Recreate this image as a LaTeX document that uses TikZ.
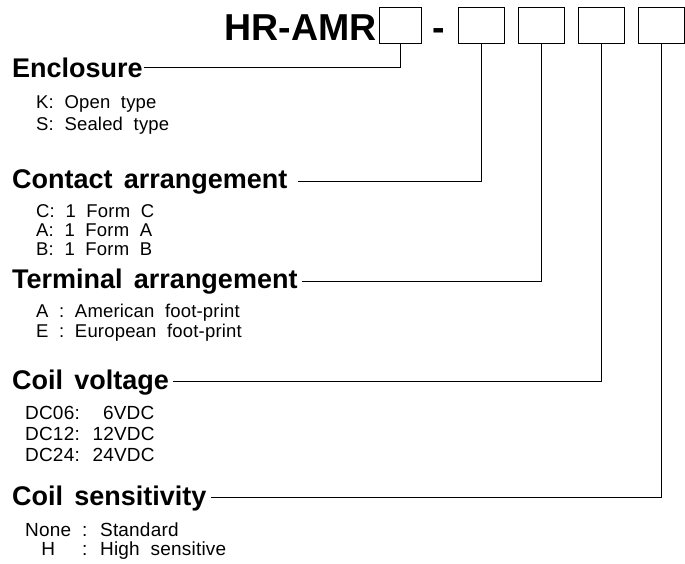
\documentclass[tikz,border=0pt]{standalone}
\usepackage{fontspec}
\setmainfont{Liberation Sans}
\newfontfamily\headfont[WordSpace=1.5]{Liberation Sans}
\newfontfamily\itemfont[WordSpace=2,LetterSpace=1]{Liberation Sans}
\usetikzlibrary{calc}
\begin{document}
\begin{tikzpicture}[x=1pt,y=-1pt,
  codebox/.style={draw=black,line width=1pt,minimum height=36pt,inner sep=0pt},
  title/.style={anchor=base east,inner sep=0pt,font=\fontsize{37.5}{40}\selectfont\bfseries},
  heading/.style={anchor=base west,inner sep=0pt,font=\headfont\fontsize{27}{30}\selectfont\bfseries},
  item/.style={anchor=base west,inner sep=0pt,font=\itemfont\fontsize{18.5}{20}\selectfont},
  bigitem/.style={anchor=base west,inner sep=0pt,font=\itemfont\fontsize{19}{21}\selectfont},
  leader/.style={draw=black,line width=0.9pt}]
\useasboundingbox (0,0) rectangle (685,563);
% title and code boxes
\node[title] (hr) at (377,40) {HR-AMR};
\node[anchor=base,inner sep=0pt,font=\fontsize{37.5}{40}\selectfont\bfseries] (dash) at (439,40) {-};
\node[codebox,minimum width=42pt] (b1) at (400,25) {};
\node[codebox,minimum width=46pt] (b2) at (481,25) {};
\node[codebox,minimum width=46pt] (b3) at (541,25) {};
\node[codebox,minimum width=46pt] (b4) at (601,25) {};
\node[codebox,minimum width=46pt] (b5) at (661,25) {};
% headings
\node[heading] (h1) at (12,77) {Enclosure};
\node[heading] (h2) at (12,188) {Contact arrangement};
\node[heading] (h3) at (12,288) {Terminal arrangement};
\node[heading] (h4) at (12,389) {Coil voltage};
\node[heading] (h5) at (12,505) {Coil sensitivity};
% items
\node[item] (k) at (36,108) {K: Open type};
\node[item] (s) at (36,130) {S: Sealed type};
\node[item] (c) at (36,217) {C: 1 Form C};
\node[item] (a) at (36,236) {A: 1 Form A};
\node[item] (b) at (36,255) {B: 1 Form B};
\node[item] (ta) at (36,317) {A : American foot-print};
\node[item] (te) at (36,337) {E : European foot-print};
\node[bigitem] (v6) at (25,419) {DC06: \phantom{1}6VDC};
\node[bigitem] (v12) at (25,440) {DC12: 12VDC};
\node[bigitem] (v24) at (25,461) {DC24: 24VDC};
\node[bigitem] (none) at (25,536) {None : Standard};
\node[bigitem] (hs) at (25,555) {\ooalign{\hphantom{None}\cr\hfil H\hfil} : High sensitive};
% leaders
\draw[leader] ($(h1.base east)+(1,-10)$) -| (b1.south);
\draw[leader] ($(h2.base east)+(10,-7)$) -| (b2.south);
\draw[leader] ($(h3.base east)+(4,-7)$) -| (b3.south);
\draw[leader] ($(h4.base east)+(4,-8)$) -| (b4.south);
\draw[leader] ($(h5.base east)+(4,-8)$) -| (b5.south);
\end{tikzpicture}
\end{document}
